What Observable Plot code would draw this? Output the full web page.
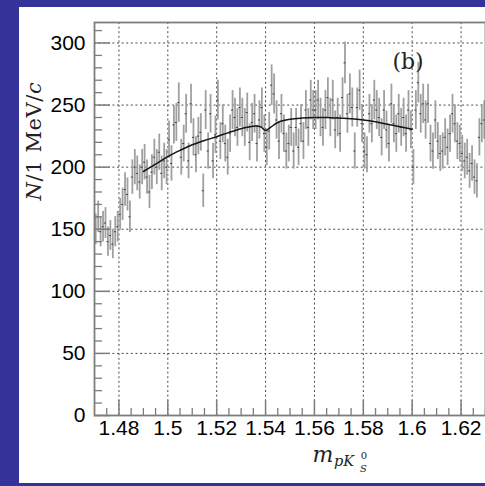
<!DOCTYPE html>
<html><head><meta charset="utf-8">
<script src="https://cdn.jsdelivr.net/npm/d3@7"></script>
<script src="https://cdn.jsdelivr.net/npm/@observablehq/plot@0.6"></script>
<style>
html,body{margin:0;padding:0;background:#333399;}
body{width:485px;height:486px;overflow:hidden;position:relative;}
#panel{position:absolute;left:19px;top:7px;width:466px;height:476px;background:#fff;overflow:hidden;}
</style></head><body><div id="panel"></div>
<script>
// histogram: 1 MeV bins starting at 1.470 GeV
const binStart = 1.470;
const binWidth = 0.001;
const counts = [
 150,160,148,152,155,140,145,138,148,152,
 162,170,182,178,160,192,200,195,188,200,
 204,192,180,196,208,200,212,195,205,200,
 222,203,234,236,252,208,219,243,205,251,
 224,210,225,228,181,246,213,243,205,226,
 254,221,235,219,208,227,246,240,232,248,
 240,232,244,220,236,243,219,238,248,227,
 216,229,266,259,238,221,243,227,213,219,
 232,213,232,216,235,221,246,232,254,246,
 246,254,240,232,246,256,240,254,230,240,
 227,256,284,243,259,248,213,248,262,235,
 213,210,243,235,254,246,240,224,246,230,
 219,251,235,227,243,232,240,227,246,230,
 200,246,268,243,251,238,251,219,213,238,
 221,211,213,224,216,227,243,235,221,219,
 211,205,208,197,203,192,189,224,235,238
];
// fitted curve
const fitMass  = [1.490,1.495,1.500,1.505,1.510,1.515,1.520,1.525,1.530,1.535,1.538,1.540,1.542,1.545,1.550,1.555,1.560,1.565,1.570,1.575,1.580,1.585,1.590,1.595,1.600];
const fitValue = [196.5,202.5,208.5,213.5,218,221.5,224.5,228,231,233,232.5,229.5,232,236,238.5,239.5,240,240,239.5,239,238,236.5,234.5,232.5,230.5];
// axes
const xDomain = [1.47, 1.63];
const yDomain = [0, 316.5];
const xTicks = [1.48,1.50,1.52,1.54,1.56,1.58,1.60,1.62];
const xTickLabels = ["1.48","1.5","1.52","1.54","1.56","1.58","1.6","1.62"];
const yTicks = [0,50,100,150,200,250,300];
const yTickLabels = ["0","50","100","150","200","250","300"];
const xMinorStep = 0.005;
const yMinorStep = 10;

const W = 466, H = 476, mL = 75, mR = 0, mT = 15, mB = 68;
const plotW = W - mL - mR, plotH = H - mT - mB;

const bins = counts.map((n, i) => ({x: binStart + (i + 0.5) * binWidth, n}));
const fit = fitMass.map((m, i) => ({x: m, y: fitValue[i]}));
const xMinor = d3.range(1.475, 1.6301, xMinorStep).filter(v => !xTicks.some(t => Math.abs(t - v) < 1e-6));
const yMinor = d3.range(10, 316, yMinorStep).filter(v => v % 50 !== 0);

const gridStyle = {stroke: "#4a4a4a", strokeWidth: 1, strokeDasharray: "2,2.6"};
const axisGray = "#7d7d7d";

const chart = Plot.plot({
  width: W, height: H,
  marginLeft: mL, marginRight: mR, marginTop: mT, marginBottom: mB,
  x: {domain: xDomain},
  y: {domain: yDomain},
  style: {fontFamily: "'Liberation Sans', Arial, sans-serif", fontSize: "21px", background: "transparent", color: "#000"},
  marks: [
    Plot.ruleX(xTicks, {x: d => d, ...gridStyle}),
    Plot.ruleY(yTicks.filter(v => v > 0), {y: d => d, ...gridStyle}),
    Plot.ruleX(bins, {x: "x", y1: d => d.n - Math.sqrt(d.n), y2: d => d.n + Math.sqrt(d.n), stroke: "#a0a0a0", strokeWidth: 1.8}),
    Plot.ruleY(bins, {y: "n", x1: d => d.x - binWidth * 0.4, x2: d => d.x + binWidth * 0.4, stroke: "#3a3a3a", strokeWidth: 1}),
    Plot.line(fit, {x: "x", y: "y", curve: "catmull-rom", stroke: "#151515", strokeWidth: 1.5}),
    Plot.tickY(yTicks, {y: d => d, insetRight: plotW - 16, stroke: axisGray, strokeWidth: 1.5}),
    Plot.tickY(yMinor, {y: d => d, insetRight: plotW - 8, stroke: axisGray, strokeWidth: 1.3}),
    Plot.tickX(xTicks, {x: d => d, insetTop: plotH - 15, stroke: axisGray, strokeWidth: 1.5}),
    Plot.tickX(xMinor, {x: d => d, insetTop: plotH - 7, stroke: axisGray, strokeWidth: 1.3}),
    Plot.frame({stroke: axisGray, strokeWidth: 1.8}),
    Plot.axisY(yTicks, {tickSize: 0, tickPadding: 9, fontSize: 21, label: null, tickFormat: (d, i) => yTickLabels[i]}),
    Plot.axisX(xTicks, {tickSize: 0, tickPadding: 5, fontSize: 21, label: null, tickFormat: (d, i) => xTickLabels[i]})
  ]
});
document.getElementById("panel").appendChild(chart);

const svg = d3.select(chart);
// y-axis title
const yt = svg.append("text")
  .attr("transform", "translate(22,134) rotate(-90)")
  .attr("text-anchor", "middle")
  .attr("font-family", "'DejaVu Serif', serif")
  .attr("font-size", 21)
  .attr("letter-spacing", 0.6)
  .attr("fill", "#222");
yt.append("tspan").attr("font-style", "italic").text("N");
yt.append("tspan").text("/1 MeV/");
yt.append("tspan").attr("font-style", "italic").text("c");
// x-axis title  m_{pK^0_S}
const xt = svg.append("g").attr("font-family", "'DejaVu Serif', serif").attr("fill", "#222").attr("font-style", "italic");
xt.append("text").attr("x", 304).attr("y", 454.5).attr("font-size", 22).text("m");
xt.append("text").attr("x", 325).attr("y", 458.5).attr("font-size", 14.5).text("pK");
xt.append("text").attr("x", 345).attr("y", 452).attr("font-size", 10).attr("font-style", "normal").text("0");
xt.append("text").attr("x", 344.5).attr("y", 464.5).attr("font-size", 10).text("S");
// panel label
svg.append("text").attr("x", 389).attr("y", 62)
  .attr("font-family", "'DejaVu Serif', serif").attr("font-size", 22).attr("fill", "#222").text("(b)");
</script>
</body></html>
